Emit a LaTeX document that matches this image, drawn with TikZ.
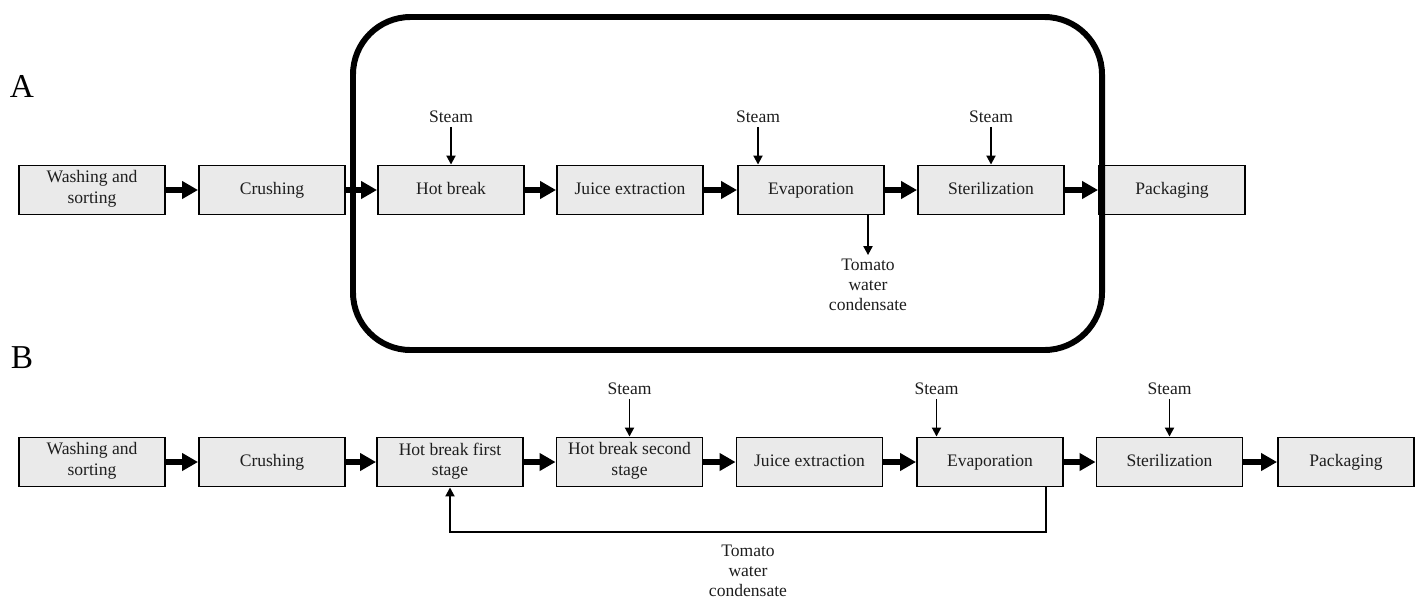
\documentclass[tikz,border=0pt]{standalone}
\usepackage{fontspec}
\setmainfont{Liberation Serif}
\usetikzlibrary{positioning,arrows.meta}
\definecolor{boxgray}{RGB}{234,234,234}
\definecolor{inkgray}{RGB}{30,30,30}

\begin{document}
\begin{tikzpicture}[x=0.02cm, y=-0.02cm,
    stage/.style={draw, fill=boxgray, line width=1.1pt, minimum width=2.92cm,
        minimum height=0.98cm, inner sep=1pt, align=center, text=inkgray,
        font=\fontsize{10}{11.5}\selectfont,
        execute at begin node=\strut, execute at end node=\strut},
    lbl/.style={inner sep=2pt, align=center, text=inkgray,
        font=\fontsize{10}{11.5}\selectfont},
    flow/.style={line width=3pt, -{Triangle[length=0.32cm, width=0.34cm]}},
    feed/.style={line width=1.1pt, -{Triangle[length=0.18cm, width=0.18cm]}},
    panel/.style={font=\fontsize{19}{22}\selectfont}]
    \useasboundingbox (0,0) rectangle (1416,599);

    \node[panel] (labA) at (22,86) {A};
    \node[panel] (labB) at (22,358) {B};

    % A
    \node[stage] (washA) at (92,190) {Washing and\\sorting};
    \node[stage] (crushA) at (272,190) {Crushing};
    \node[stage] (hotA) at (451,190) {Hot break};
    \node[stage] (juiceA) at (630,190) {Juice extraction};
    \node[stage] (evapA) at (811,190) {Evaporation};
    \node[stage] (sterA) at (991,190) {Sterilization};
    \node[stage] (packA) at (1172,190) {Packaging};

    \node[lbl] (steamhotA) at (451,117) {Steam};
    \node[lbl] (steamevA) at (758,117) {Steam};
    \node[lbl] (steamstA) at (991,117) {Steam};
    \node[lbl] (condA) at (868,285) {Tomato\\water\\condensate};

    \draw[flow] (washA) -- (crushA);
    \draw[flow] (crushA) -- (hotA);
    \draw[flow] (hotA) -- (juiceA);
    \draw[flow] (juiceA) -- (evapA);
    \draw[flow] (evapA) -- (sterA);
    \draw[flow] (sterA) -- (packA);

    \draw[feed] (steamhotA.south) -- (steamhotA.south |- hotA.north);
    \draw[feed] (steamevA.south) -- (steamevA.south |- evapA.north);
    \draw[feed] (steamstA.south) -- (steamstA.south |- sterA.north);
    \draw[feed] (evapA.south -| condA.north) -- (condA.north);

    \draw[line width=3.4pt, rounded corners=1.15cm] (353,17) rectangle (1102,350);

    % B
    \node[stage] (washB) at (92,462) {Washing and\\sorting};
    \node[stage] (crushB) at (272,462) {Crushing};
    \node[stage] (hotoneB) at (450,462) {Hot break first\\stage};
    \node[stage] (hottwoB) at (629.5,462) {Hot break second\\stage};
    \node[stage] (juiceB) at (809.5,462) {Juice extraction};
    \node[stage] (evapB) at (990,462) {Evaporation};
    \node[stage] (sterB) at (1169.5,462) {Sterilization};
    \node[stage, minimum width=2.72cm] (packB) at (1346,462) {Packaging};

    \node[lbl] (steamhotB) at (629.5,389) {Steam};
    \node[lbl] (steamevB) at (936.5,389) {Steam};
    \node[lbl] (steamstB) at (1169.5,389) {Steam};
    \node[lbl] (condB) at (748,571) {Tomato\\water\\condensate};
    \coordinate (backB) at (1046,532);

    \draw[flow] (washB) -- (crushB);
    \draw[flow] (crushB) -- (hotoneB);
    \draw[flow] (hotoneB) -- (hottwoB);
    \draw[flow] (hottwoB) -- (juiceB);
    \draw[flow] (juiceB) -- (evapB);
    \draw[flow] (evapB) -- (sterB);
    \draw[flow] (sterB) -- (packB);

    \draw[feed] (steamhotB.south) -- (steamhotB.south |- hottwoB.north);
    \draw[feed] (steamevB.south) -- (steamevB.south |- evapB.north);
    \draw[feed] (steamstB.south) -- (steamstB.south |- sterB.north);
    \draw[feed] (evapB.south -| backB) -- (backB) -| (hotoneB.south);
\end{tikzpicture}
\end{document}
